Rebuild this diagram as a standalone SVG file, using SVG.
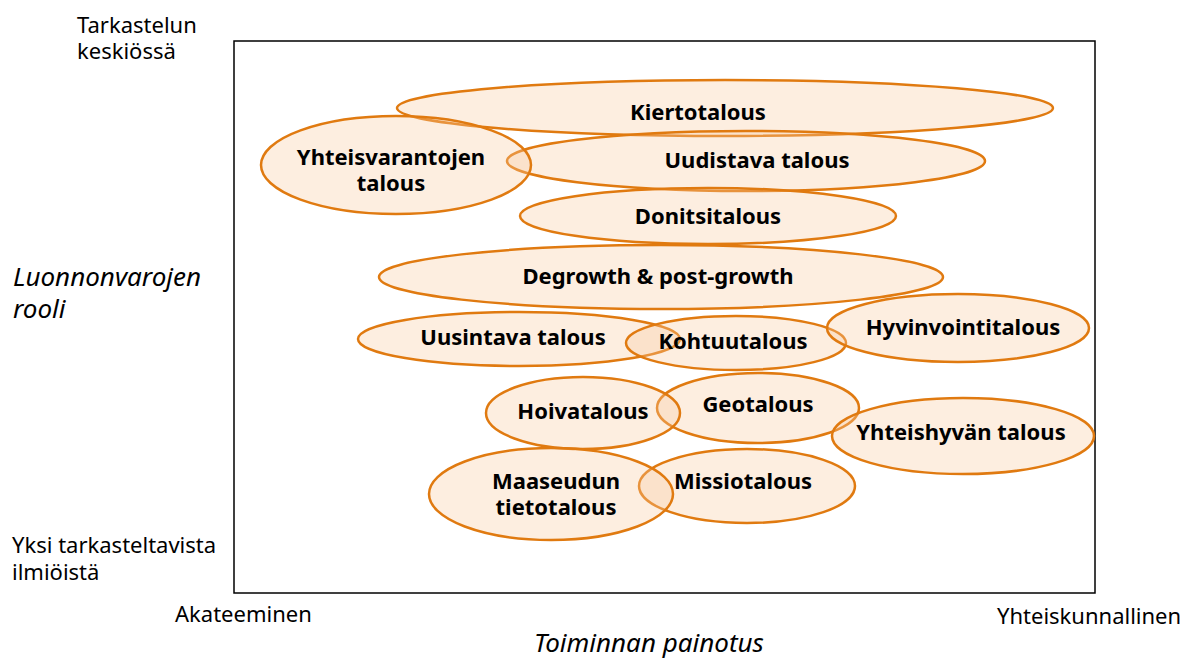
<svg xmlns="http://www.w3.org/2000/svg" width="1186" height="659" viewBox="0 0 1186 659">
<style>
.e{fill:#F8CBA0;fill-opacity:0.32;stroke:#E07A10;stroke-width:2.5}
.t{font-family:"Noto Sans","Open Sans",sans-serif;font-weight:bold;font-size:22px;fill:#000;text-anchor:middle}
.a{font-family:"Noto Sans","Open Sans",sans-serif;font-size:22px;fill:#000}
.i{font-family:"Noto Sans","Open Sans",sans-serif;font-size:26px;font-style:italic;fill:#000}
</style>
<rect x="234" y="41" width="861" height="552" fill="none" stroke="#000" stroke-width="1.5"/>
<g id="connectors"></g>
<g id="kiertotalous"><ellipse class="e" cx="725" cy="108" rx="328" ry="28"/><text class="t" x="698" y="120">Kiertotalous</text></g>
<g id="uudistava"><ellipse class="e" cx="746" cy="161" rx="239" ry="30"/><text class="t" x="757" y="168">Uudistava talous</text></g>
<g id="yhteisvarantojen"><ellipse class="e" cx="396" cy="165" rx="135" ry="49"/><text class="t" x="391" y="165">Yhteisvarantojen</text><text class="t" x="391" y="191">talous</text></g>
<g id="donitsi"><ellipse class="e" cx="708" cy="216" rx="188" ry="28"/><text class="t" x="708" y="224">Donitsitalous</text></g>
<g id="degrowth"><ellipse class="e" cx="661" cy="277" rx="282" ry="32"/><text class="t" x="658" y="284">Degrowth &amp; post-growth</text></g>
<g id="uusintava"><ellipse class="e" cx="519" cy="339" rx="161" ry="27"/><text class="t" x="513" y="345">Uusintava talous</text></g>
<g id="kohtuu"><ellipse class="e" cx="736" cy="343" rx="110" ry="27"/><text class="t" x="733" y="349">Kohtuutalous</text></g>
<g id="hyvinvointi"><ellipse class="e" cx="958" cy="328" rx="131" ry="34"/><text class="t" x="963" y="335">Hyvinvointitalous</text></g>
<g id="geo"><ellipse class="e" cx="758" cy="408" rx="101" ry="35"/><text class="t" x="758" y="412">Geotalous</text></g>
<g id="hoiva"><ellipse class="e" cx="583" cy="413" rx="97" ry="36"/><text class="t" x="583" y="419">Hoivatalous</text></g>
<g id="yhteishyvan"><ellipse class="e" cx="963" cy="436" rx="131" ry="38"/><text class="t" x="961" y="440">Yhteishyvän talous</text></g>
<g id="missio"><ellipse class="e" cx="747" cy="486" rx="108" ry="37"/><text class="t" x="743" y="489">Missiotalous</text></g>
<g id="maaseudun"><ellipse class="e" cx="551" cy="494" rx="122" ry="46"/><text class="t" x="556" y="489">Maaseudun</text><text class="t" x="556" y="515">tietotalous</text></g>
<text class="a" x="77" y="33">Tarkastelun</text>
<text class="a" x="77" y="59">keskiössä</text>
<text class="i" x="13" y="286">Luonnonvarojen</text>
<text class="i" x="13" y="318">rooli</text>
<text class="a" x="12" y="553">Yksi tarkasteltavista</text>
<text class="a" x="12" y="580">ilmiöistä</text>
<text class="a" x="175" y="622">Akateeminen</text>
<text class="a" x="997" y="624">Yhteiskunnallinen</text>
<text class="i" x="534" y="652">Toiminnan painotus</text>
</svg>
